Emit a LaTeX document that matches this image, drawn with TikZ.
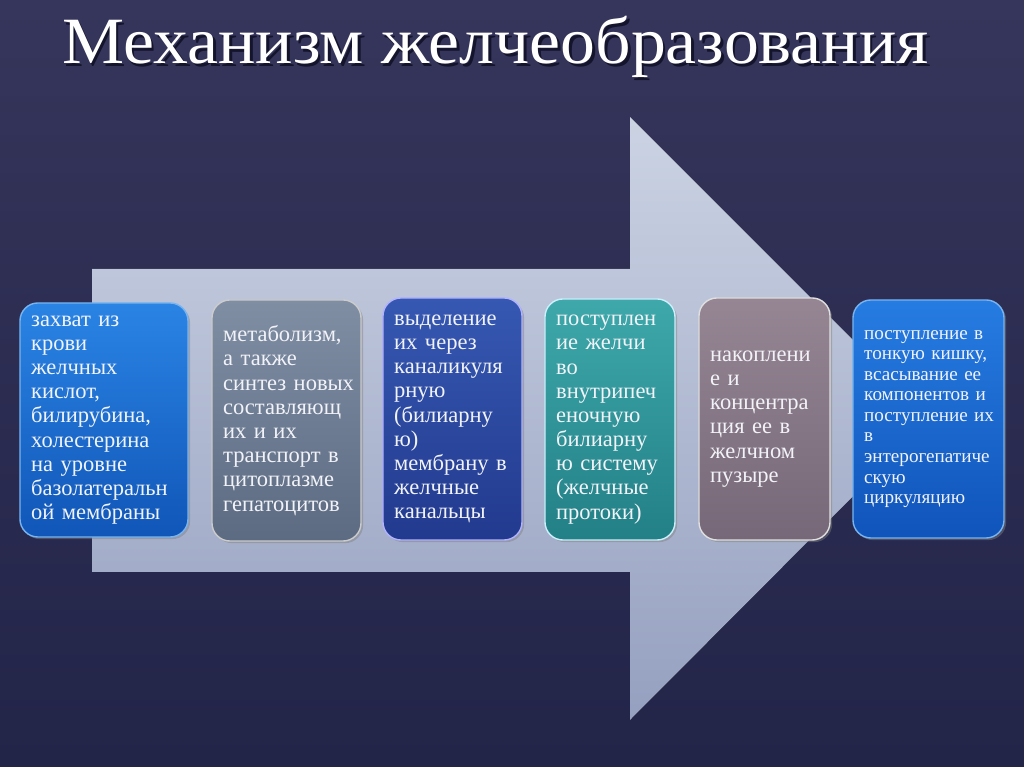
\documentclass[tikz,border=0pt]{standalone}
\usepackage{fontspec}
\setmainfont{Liberation Serif}
\usetikzlibrary{shadows}
\definecolor{bgtop}{HTML}{36355B}
\definecolor{bgbot}{HTML}{222448}
\definecolor{arrtop}{HTML}{CBD3E3}
\definecolor{arrbot}{HTML}{95A0C0}
\definecolor{txtwhite}{HTML}{F2F3F8}
\definecolor{titleshade}{HTML}{14142C}
\begin{document}
\begin{tikzpicture}[x=0.025cm, y=0.025cm,
    stagebox/.style={rounded corners=0.45cm, inner xsep=0.28cm, inner ysep=0pt, align=left, text=txtwhite, font=\fontsize{16}{17.2}\selectfont, line width=1pt, drop shadow={shadow xshift=1.5pt, shadow yshift=-1.5pt, opacity=0.45}},
    headline/.style={font=\fontsize{47}{50}\selectfont, anchor=base west, inner sep=0},
]
    \useasboundingbox (0,0) rectangle (1024,767);
    % background and big arrow
    \fill[top color=bgtop, bottom color=bgbot] (0,0) rectangle (1024,767);
    \fill[top color=arrtop, bottom color=arrbot] (92,498) -- (630,498) -- (630,650) -- (931,349) -- (630,47) -- (630,195) -- (92,195) -- cycle;

    % title (with its shadow)
    \node[headline, text=white] (title) at (62,703) {\rlap{\hspace{1.8pt}\raisebox{-1.8pt}{\color{titleshade}\scalebox{1.056}[1]{Механизм желчеобразования}}}\scalebox{1.056}[1]{Механизм желчеобразования}};

    % stages
    \node[stagebox, text width=3.64cm, minimum height=5.85cm, top color={rgb,255:red,42;green,132;blue,228}, bottom color={rgb,255:red,16;green,86;blue,184}, draw={rgb,255:red,120;green,180;blue,240}] (capture) at (104,347) {захват~из\\крови\\желчных\\кислот,\\билирубина,\\холестерина\\на~уровне\\базолатеральн\\ой~мембраны};
    \node[stagebox, text width=3.165cm, minimum height=6.025cm, top color={rgb,255:red,128;green,142;blue,164}, bottom color={rgb,255:red,92;green,107;blue,130}, draw=gray!40!white] (metab) at (286.5,346.5) {метаболизм,\\а~также\\синтез~новых\\составляющ\\их~и~их\\транспорт~в\\цитоплазме\\гепатоцитов};
    \node[stagebox, text width=2.915cm, minimum height=6.05cm, top color={rgb,255:red,54;green,88;blue,178}, bottom color={rgb,255:red,34;green,58;blue,142}, draw=blue!30!white] (secrete) at (452.5,348) {выделение\\их~через\\каналикуля\\рную\\(билиарну\\ю)\\мембрану~в\\желчные\\канальцы};
    \node[stagebox, text width=2.69cm, minimum height=6.025cm, top color={rgb,255:red,62;green,168;blue,170}, bottom color={rgb,255:red,34;green,128;blue,134}, draw=cyan!20!white] (ducts) at (610,347.5) {поступлен\\ие~желчи\\во\\внутрипеч\\еночную\\билиарну\\ю~систему\\(желчные\\протоки)};
    \node[stagebox, text width=2.715cm, minimum height=6.05cm, top color={rgb,255:red,150;green,134;blue,148}, bottom color={rgb,255:red,118;green,104;blue,120}, draw=white!75!gray] (bladder) at (764.5,348) {накоплени\\е~и\\концентра\\ция~ее~в\\желчном\\пузыре};
    \node[stagebox, text width=3.215cm, minimum height=5.95cm, font=\fontsize{13.6}{14.6}\selectfont, top color={rgb,255:red,38;green,124;blue,226}, bottom color={rgb,255:red,16;green,84;blue,186}, draw={rgb,255:red,120;green,180;blue,240}] (intestine) at (928.5,348) {поступление~в\\тонкую~кишку,\\всасывание~ее\\компонентов~и\\поступление~их\\в\\энтерогепатиче\\скую\\циркуляцию};
\end{tikzpicture}
\end{document}
